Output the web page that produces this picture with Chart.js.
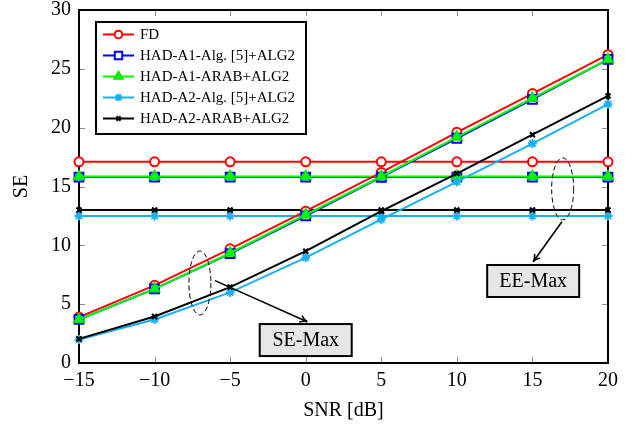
<!DOCTYPE html>
<html>
<head>
<meta charset="utf-8">
<script src="https://cdn.jsdelivr.net/npm/chart.js@4/dist/chart.umd.min.js"></script>
<style>
  html, body { margin: 0; padding: 0; background: #fff; }
  #wrap { width: 643px; height: 429px; }
</style>
</head>
<body>
<div id="wrap"><canvas id="seChart" width="643" height="429"></canvas></div>
<script>
// SE vs SNR, SE-Max (rising) and EE-Max (flat) curves

const snr = [-15, -10, -5, 0, 5, 10, 15, 20];

// SE-Max curves
const fdSE      = [3.9, 6.6, 9.7, 12.9, 16.2, 19.6, 22.9, 26.2];
const a1AlgSE   = [3.7, 6.3, 9.3, 12.5, 15.8, 19.1, 22.4, 25.8];
const a1ArabSE  = [3.7, 6.3, 9.35, 12.6, 15.85, 19.2, 22.5, 25.8];
const a2AlgSE   = [2.0, 3.7, 6.0, 8.95, 12.2, 15.4, 18.65, 22.0];
const a2ArabSE  = [2.05, 3.95, 6.45, 9.5, 12.9, 16.1, 19.4, 22.7];

// EE-Max curves
const fdEE      = [17.1, 17.1, 17.1, 17.1, 17.1, 17.1, 17.1, 17.1];
const a1AlgEE   = [15.8, 15.8, 15.8, 15.8, 15.8, 15.8, 15.8, 15.8];
const a1ArabEE  = [15.85, 15.85, 15.85, 15.85, 15.85, 15.85, 15.85, 15.85];
const a2AlgEE   = [12.5, 12.5, 12.5, 12.5, 12.5, 12.5, 12.5, 12.5];
const a2ArabEE  = [13.0, 13.0, 13.0, 13.0, 13.0, 13.0, 13.0, 13.0];

const xTicks = [-15, -10, -5, 0, 5, 10, 15, 20];
const yTicks = [0, 5, 10, 15, 20, 25, 30];

const seriesNames = ['FD', 'HAD-A1-Alg. [5]+ALG2', 'HAD-A1-ARAB+ALG2', 'HAD-A2-Alg. [5]+ALG2', 'HAD-A2-ARAB+ALG2'];

const serif = "'Liberation Serif', 'DejaVu Serif', serif";

// marker styles per series
const styles = [
    { color: '#ff0000', fill: '#ffffff', pointStyle: 'circle', radius: 4.5, bw: 2 },
    { color: '#0000ff', fill: '#ffffff', pointStyle: 'rect', radius: 6.2, bw: 2 },
    { color: '#00e000', fill: '#00ff00', pointStyle: 'triangle', radius: 6, bw: 1.5, lineColor: '#00ff00' },
    { color: '#1ab0ef', fill: '#1ab0ef', pointStyle: 'star', radius: 4.5, bw: 2 },
    { color: '#000000', fill: '#000000', pointStyle: 'crossRot', radius: 3.5, bw: 2.2 }
];

function toXY(ys) {
    return snr.map((x, i) => ({ x: x, y: ys[i] }));
}

function makeSet(label, ys, st, order) {
    return {
        label: label,
        data: toXY(ys),
        borderColor: st.lineColor || st.color,
        backgroundColor: st.fill,
        pointBorderColor: st.color,
        pointBackgroundColor: st.fill,
        pointStyle: st.pointStyle,
        pointRadius: st.radius,
        pointBorderWidth: st.bw,
        borderWidth: 2,
        tension: 0,
        clip: false,
        order: order
    };
}

const seData = [fdSE, a1AlgSE, a1ArabSE, a2AlgSE, a2ArabSE];
const eeData = [fdEE, a1AlgEE, a1ArabEE, a2AlgEE, a2ArabEE];

// lower order is drawn on top, so later series go over earlier ones
const datasets = [];
for (let i = 0; i < 5; i++) datasets.push(makeSet(seriesNames[i] + ' EE', eeData[i], styles[i], 20 - i));
for (let i = 0; i < 5; i++) datasets.push(makeSet(seriesNames[i], seData[i], styles[i], 10 - i));

function px(chart, x) { return chart.scales.x.getPixelForValue(x); }
function py(chart, y) { return chart.scales.y.getPixelForValue(y); }

function drawArrow(ctx, x1, y1, x2, y2) {
    ctx.save();
    ctx.strokeStyle = '#000';
    ctx.lineWidth = 1.6;
    ctx.beginPath();
    ctx.moveTo(x1, y1);
    ctx.lineTo(x2, y2);
    ctx.stroke();
    const a = Math.atan2(y2 - y1, x2 - x1);
    const L = 8;
    ctx.beginPath();
    ctx.moveTo(x2 - L * Math.cos(a - 0.45), y2 - L * Math.sin(a - 0.45));
    ctx.quadraticCurveTo(x2 - 3 * Math.cos(a), y2 - 3 * Math.sin(a), x2, y2);
    ctx.quadraticCurveTo(x2 - 3 * Math.cos(a), y2 - 3 * Math.sin(a), x2 - L * Math.cos(a + 0.45), y2 - L * Math.sin(a + 0.45));
    ctx.stroke();
    ctx.restore();
}

function drawLabelBox(ctx, cx, cy, text) {
    const w = 92, h = 32;
    ctx.save();
    ctx.fillStyle = '#e6e6e6';
    ctx.strokeStyle = '#000';
    ctx.lineWidth = 2;
    ctx.fillRect(cx - w / 2, cy - h / 2, w, h);
    ctx.strokeRect(cx - w / 2, cy - h / 2, w, h);
    ctx.fillStyle = '#000';
    ctx.font = '20px ' + serif;
    ctx.textAlign = 'center';
    ctx.textBaseline = 'middle';
    ctx.fillText(text, cx, cy + 1);
    ctx.restore();
}

function drawEllipse(ctx, cx, cy, rx, ry) {
    ctx.save();
    ctx.strokeStyle = '#000';
    ctx.lineWidth = 1;
    ctx.setLineDash([5, 3]);
    ctx.beginPath();
    ctx.ellipse(cx, cy, rx, ry, 0, 0, Math.PI * 2);
    ctx.stroke();
    ctx.restore();
}

const framePlugin = {
    id: 'frame',
    beforeDatasetsDraw(chart) {
        const { ctx, chartArea: a } = chart;
        ctx.save();
        // inward ticks on all four sides
        ctx.strokeStyle = '#8c8c8c';
        ctx.lineWidth = 1;
        ctx.beginPath();
        xTicks.forEach(t => {
            const x = Math.round(px(chart, t)) + 0.5;
            ctx.moveTo(x, a.bottom); ctx.lineTo(x, a.bottom - 6);
            ctx.moveTo(x, a.top); ctx.lineTo(x, a.top + 6);
        });
        yTicks.forEach(t => {
            const y = Math.round(py(chart, t)) + 0.5;
            ctx.moveTo(a.left, y); ctx.lineTo(a.left + 6, y);
            ctx.moveTo(a.right, y); ctx.lineTo(a.right - 6, y);
        });
        ctx.stroke();
        ctx.strokeStyle = '#000';
        ctx.lineWidth = 2;
        ctx.strokeRect(a.left, a.top, a.right - a.left, a.bottom - a.top);
        ctx.restore();
    },
    afterDatasetsDraw(chart) {
        const ctx = chart.ctx;

        // annotations
        drawEllipse(ctx, px(chart, -7), py(chart, 6.8), 11, 32);
        drawArrow(ctx, px(chart, -6.0), py(chart, 7.0), px(chart, 0.1), py(chart, 3.5));
        drawLabelBox(ctx, px(chart, 0), py(chart, 1.95), 'SE-Max');

        drawEllipse(ctx, px(chart, 17.0), py(chart, 14.8), 11, 31);
        drawArrow(ctx, px(chart, 16.95), py(chart, 12.0), px(chart, 15.05), py(chart, 8.6));
        drawLabelBox(ctx, px(chart, 15.05), py(chart, 6.97), 'EE-Max');

        // legend
        const lx = 96, ly = 22, lw = 210, lh = 112;
        ctx.save();
        ctx.fillStyle = '#fff';
        ctx.fillRect(lx, ly, lw, lh);
        ctx.strokeStyle = '#000';
        ctx.lineWidth = 2;
        ctx.strokeRect(lx, ly, lw, lh);
        seriesNames.forEach((name, i) => {
            const st = styles[i];
            const y = 34.5 + i * 21;
            ctx.strokeStyle = st.lineColor || st.color;
            ctx.lineWidth = 2;
            ctx.beginPath();
            ctx.moveTo(103, y);
            ctx.lineTo(134, y);
            ctx.stroke();
            ctx.strokeStyle = st.color;
            ctx.fillStyle = st.fill;
            ctx.lineWidth = st.bw;
            Chart.helpers.drawPoint(ctx, { pointStyle: st.pointStyle, radius: st.radius * 0.85, borderWidth: st.bw, rotation: 0 }, 118.5, y);
            ctx.fillStyle = '#000';
            ctx.font = '15px ' + serif;
            ctx.textAlign = 'left';
            ctx.textBaseline = 'middle';
            ctx.fillText(name, 140, y + 1);
        });
        ctx.restore();
    }
};

new Chart(document.getElementById('seChart'), {
    type: 'line',
    data: { datasets: datasets },
    options: {
        responsive: false,
        animation: false,
        layout: { padding: { top: 0, right: 35, left: 0, bottom: 0 } },
        plugins: {
            legend: { display: false },
            tooltip: { enabled: false }
        },
        scales: {
            x: {
                type: 'linear',
                min: -15,
                max: 20,
                afterBuildTicks: axis => { axis.ticks = xTicks.map(v => ({ value: v })); },
                afterFit: axis => { axis.height = 66; },
                grid: { display: false, drawTicks: false },
                border: { display: false },
                ticks: {
                    padding: 6,
                    color: '#000',
                    font: { family: serif, size: 20 },
                    callback: v => String(v).replace('-', '\u2212')
                },
                title: {
                    display: true,
                    text: 'SNR [dB]',
                    color: '#000',
                    font: { family: serif, size: 20 },
                    padding: { top: 4, bottom: 6 }
                }
            },
            y: {
                min: 0,
                max: 30,
                afterBuildTicks: axis => { axis.ticks = yTicks.map(v => ({ value: v })); },
                afterFit: axis => { axis.width = 79; axis.paddingTop = 10; },
                grid: { display: false, drawTicks: false },
                border: { display: false },
                ticks: {
                    padding: 8,
                    color: '#000',
                    font: { family: serif, size: 20 }
                },
                title: {
                    display: true,
                    text: 'SE',
                    color: '#000',
                    font: { family: serif, size: 20 },
                    padding: { top: 10, bottom: 4 }
                }
            }
        }
    },
    plugins: [framePlugin]
});
</script>
</body>
</html>
